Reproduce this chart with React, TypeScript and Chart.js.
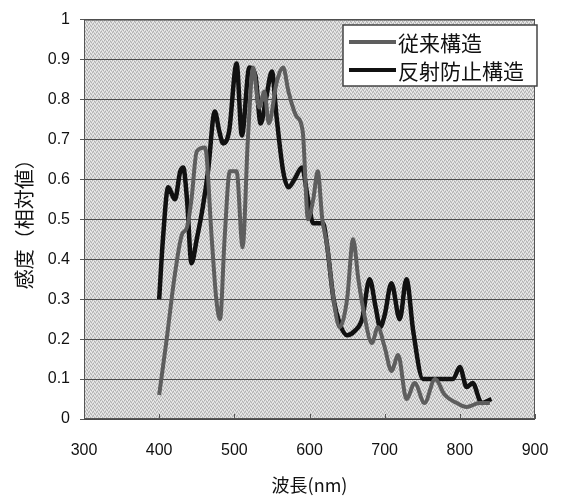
import React, { useEffect, useRef } from "react";
import { Chart, registerables } from "chart.js";

Chart.register(...registerables);

const seriesNames = ["従来構造", "反射防止構造"];

const grayX = [400, 410, 420, 430, 437, 443, 450, 461, 470, 476, 481, 487, 494, 503, 511, 518, 525, 533, 540, 546, 556, 565, 572, 582, 591, 598, 605, 611, 617, 623, 632, 640, 650, 658, 665, 672, 683, 691, 700, 709, 718, 729, 740, 753, 767, 780, 796, 809, 826, 840];
const grayY = [0.06, 0.2, 0.35, 0.46, 0.48, 0.55, 0.67, 0.68, 0.45, 0.3, 0.25, 0.45, 0.62, 0.62, 0.43, 0.7, 0.88, 0.78, 0.82, 0.74, 0.84, 0.88, 0.82, 0.76, 0.72, 0.5, 0.55, 0.62, 0.5, 0.44, 0.3, 0.23, 0.3, 0.45, 0.35, 0.27, 0.19, 0.23, 0.18, 0.12, 0.16, 0.05, 0.09, 0.04, 0.1, 0.06, 0.04, 0.03, 0.04, 0.04];

const blackX = [400, 405, 412, 421, 428, 432, 437, 443, 450, 458, 465, 474, 480, 485, 493, 503, 510, 520, 528, 535, 542, 550, 556, 565, 572, 580, 590, 598, 605, 618, 623, 632, 640, 650, 660, 670, 680, 688, 694, 700, 709, 720, 729, 738, 751, 764, 780, 791, 800, 809, 817, 829, 842];
const blackY = [0.3, 0.45, 0.58, 0.55, 0.62, 0.63, 0.55, 0.39, 0.45, 0.53, 0.62, 0.77, 0.72, 0.69, 0.72, 0.89, 0.71, 0.88, 0.86, 0.74, 0.8, 0.87, 0.76, 0.62, 0.58, 0.6, 0.63, 0.55, 0.49, 0.49, 0.44, 0.3, 0.24, 0.21, 0.22, 0.25, 0.35, 0.28, 0.23, 0.26, 0.34, 0.25, 0.35, 0.22, 0.1, 0.1, 0.1, 0.1, 0.13, 0.08, 0.09, 0.04, 0.05];

const xTicks = [300, 400, 500, 600, 700, 800, 900];
const yTicks = [0, 0.1, 0.2, 0.3, 0.4, 0.5, 0.6, 0.7, 0.8, 0.9, 1];

const xTitle = "波長(nm)";
const yTitle = "感度（相対値）";

const GRAY = "#5e5e5e";
const BLACK = "#111111";

function makePattern(ctx: CanvasRenderingContext2D) {
  const c = document.createElement("canvas");
  c.width = 4;
  c.height = 4;
  const p = c.getContext("2d")!;
  p.fillStyle = "#d2d2d2";
  p.fillRect(0, 0, 4, 4);
  p.fillStyle = "#b0b0b0";
  [[0, 0], [2, 1], [1, 3], [3, 2]].forEach(([x, y]) => p.fillRect(x, y, 1, 1));
  p.fillStyle = "#ededed";
  [[2, 3], [0, 2], [3, 0], [1, 1]].forEach(([x, y]) => p.fillRect(x, y, 1, 1));
  return ctx.createPattern(c, "repeat");
}

const bgPlugin = {
  id: "bg",
  beforeDraw(chart: any) {
    const { ctx, chartArea: a } = chart;
    ctx.save();
    ctx.fillStyle = "#ffffff";
    ctx.fillRect(0, 0, chart.width, chart.height);
    const pat = makePattern(ctx);
    ctx.fillStyle = pat || "#cdcdcd";
    ctx.fillRect(a.left, a.top, a.right - a.left, a.bottom - a.top);
    ctx.restore();
  },
  afterDraw(chart: any) {
    const { ctx, chartArea: a } = chart;
    ctx.save();
    ctx.strokeStyle = "#555";
    ctx.lineWidth = 1;
    ctx.strokeRect(a.left + 0.5, a.top + 0.5, a.right - a.left - 1, a.bottom - a.top - 1);
    const xs = chart.scales.x;
    ctx.beginPath();
    xTicks.forEach((v) => {
      const px = Math.round(xs.getPixelForValue(v)) + 0.5;
      ctx.moveTo(px, a.bottom);
      ctx.lineTo(px, a.bottom - 5);
    });
    ctx.stroke();
    const lx = 343, ly = 25, lw = 194, lh = 61;
    ctx.fillStyle = "#ffffff";
    ctx.fillRect(lx, ly, lw, lh);
    ctx.strokeStyle = "#444";
    ctx.lineWidth = 1.5;
    ctx.strokeRect(lx, ly, lw, lh);
    const rows = [
      { name: seriesNames[0], color: GRAY, y: ly + 17 },
      { name: seriesNames[1], color: BLACK, y: ly + 45 },
    ];
    rows.forEach((r) => {
      ctx.strokeStyle = r.color;
      ctx.lineWidth = 4;
      ctx.beginPath();
      ctx.moveTo(lx + 6, r.y);
      ctx.lineTo(lx + 53, r.y);
      ctx.stroke();
      ctx.fillStyle = "#111";
      ctx.font = "21px 'Noto Sans CJK JP'";
      ctx.textBaseline = "middle";
      ctx.textAlign = "left";
      ctx.fillText(r.name, lx + 55, r.y + 1);
    });
    ctx.restore();
  },
};

export default function App() {
  const ref = useRef<HTMLCanvasElement>(null);
  useEffect(() => {
    document.body.style.margin = "0";
    const ctx = ref.current!.getContext("2d")!;
    const chart = new Chart(ctx, {
      type: "line",
      data: {
        datasets: [
          {
            label: seriesNames[0],
            data: grayX.map((x, i) => ({ x, y: grayY[i] })),
            borderColor: GRAY,
            borderWidth: 4,
            pointRadius: 0,
            cubicInterpolationMode: "monotone",
            fill: false,
          },
          {
            label: seriesNames[1],
            data: blackX.map((x, i) => ({ x, y: blackY[i] })),
            borderColor: BLACK,
            borderWidth: 4.5,
            pointRadius: 0,
            cubicInterpolationMode: "monotone",
            fill: false,
          },
        ],
      },
      options: {
        animation: false,
        responsive: false,
        maintainAspectRatio: false,
        layout: { padding: { top: 13, right: 30, left: 0, bottom: 0 } },
        plugins: { legend: { display: false }, tooltip: { enabled: false } },
        scales: {
          x: {
            type: "linear",
            min: 300,
            max: 900,
            afterBuildTicks: (s: any) => {
              s.ticks = xTicks.map((v) => ({ value: v }));
            },
            afterFit: (s: any) => {
              s.height = 77;
            },
            grid: { display: false },
            border: { display: false },
            ticks: {
              color: "#111",
              font: { family: "'Liberation Sans', Arial", size: 16 },
              padding: 14,
              maxRotation: 0,
            },
            title: {
              display: true,
              text: xTitle,
              color: "#111",
              font: { family: "'Noto Sans CJK JP'", size: 18 },
              padding: { top: 4, bottom: 0 },
            },
          },
          y: {
            min: 0,
            max: 1,
            afterBuildTicks: (s: any) => {
              s.ticks = yTicks.map((v) => ({ value: v }));
            },
            afterFit: (s: any) => {
              s.width = 84;
            },
            grid: {
              color: "#4a4a4a",
              lineWidth: 1,
              drawTicks: true,
              tickLength: 4,
              tickColor: "#555",
            },
            border: { display: false },
            ticks: {
              color: "#111",
              font: { family: "'Liberation Sans', Arial", size: 16 },
              padding: 10,
              callback: (v: any) => String(Math.round(Number(v) * 10) / 10),
            },
            title: {
              display: true,
              text: yTitle,
              color: "#111",
              font: { family: "'Noto Sans CJK JP'", size: 20 },
              padding: { top: 12, bottom: 4 },
            },
          },
        },
      },
      plugins: [bgPlugin],
    } as any);
    return () => chart.destroy();
  }, []);
  return (
    <div style={{ width: 565, height: 496 }}>
      <canvas ref={ref} width={565} height={496} style={{ width: 565, height: 496, display: "block" }} />
    </div>
  );
}
